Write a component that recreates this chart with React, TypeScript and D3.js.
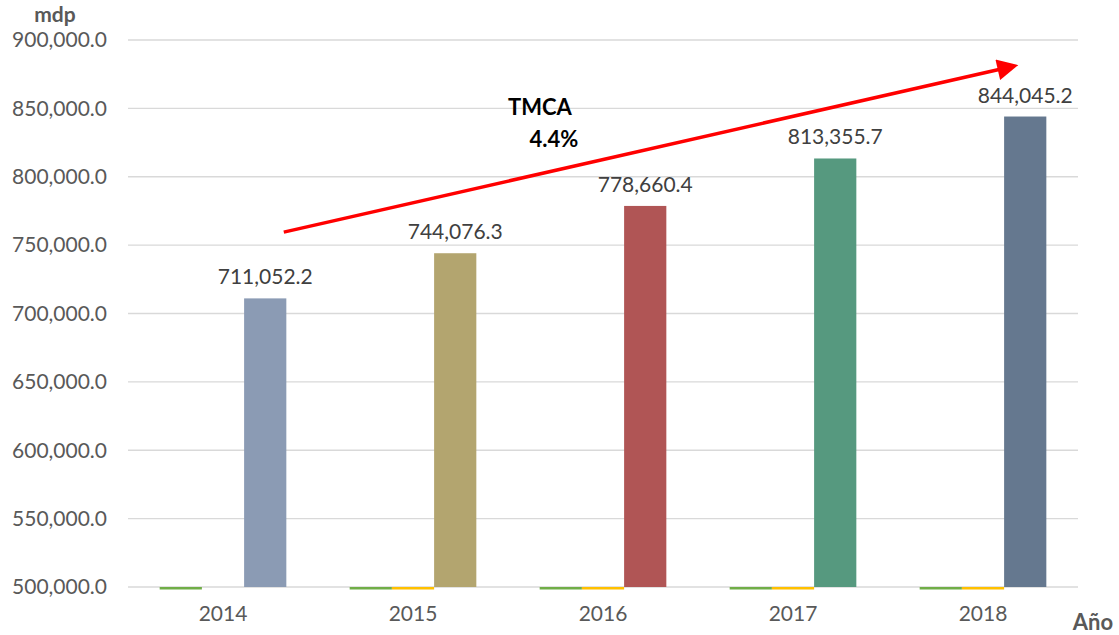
import React from "react";
import * as d3 from "d3";

const years = ["2014", "2015", "2016", "2017", "2018"];
const mainValues = [711052.2, 744076.3, 778660.4, 813355.7, 844045.2];
const greenValues = [0, 0, 0, 0, 0];
const yellowValues: (number | null)[] = [null, 0, 0, 0, 0];
const barColors = ["#8B9BB4", "#B3A56F", "#B05555", "#56997F", "#65788F"];
const yTicks = [500000, 550000, 600000, 650000, 700000, 750000, 800000, 850000, 900000];
const arrowFrom = { year: "2014", offset: 0.98, value: 759500 };
const arrowTo = { year: "2018", offset: 0.73, value: 880600 };

const W = 1119;
const H = 635;
const margin = { left: 128, right: 41, top: 40, bottom: 48 };

export default function App() {
  const x0 = d3
    .scaleBand<string>()
    .domain(years)
    .range([margin.left, W - margin.right])
    .paddingInner(1 / 3)
    .paddingOuter(1 / 6);
  const series = ["green", "yellow", "main"];
  const x1 = d3.scaleBand<string>().domain(series).range([0, x0.bandwidth()]);
  const y = d3.scaleLinear().domain([500000, 900000]).range([H - margin.bottom, margin.top]);
  const fmt = d3.format(",.1f");
  const font = "Lato, 'Open Sans', sans-serif";
  const base = y(500000);

  const below = (v: number | null) => v !== null && v < 500000;

  const ax = (x0(arrowFrom.year) as number) + x0.bandwidth() * arrowFrom.offset;
  const ay = y(arrowFrom.value);
  const bx = (x0(arrowTo.year) as number) + x0.bandwidth() * arrowTo.offset;
  const by = y(arrowTo.value);

  return (
    <svg width={W} height={H} style={{ position: "absolute", left: 0, top: 0 }} fontFamily={font}>
      <rect width={W} height={H} fill="#fff" />
      {yTicks.map((t) => (
        <g key={t}>
          <line x1={margin.left} x2={W - margin.right} y1={y(t)} y2={y(t)} stroke="#D9D9D9" strokeWidth={1.3} />
          <text x={107} y={y(t)} dy="0.35em" textAnchor="end" fontSize={21} fill="#595959">
            {fmt(t)}
          </text>
        </g>
      ))}
      {years.map((yr, i) => {
        const gx = x0(yr) as number;
        const g = greenValues[i];
        const yl = yellowValues[i];
        const m = mainValues[i];
        return (
          <g key={yr}>
            {below(g) && (
              <rect x={gx + (x1("green") as number)} y={base} width={x1.bandwidth()} height={2.5} fill="#70AD47" />
            )}
            {below(yl) && (
              <rect x={gx + (x1("yellow") as number)} y={base} width={x1.bandwidth()} height={2.5} fill="#FFC000" />
            )}
            <rect
              x={gx + (x1("main") as number)}
              y={y(m)}
              width={x1.bandwidth()}
              height={base - y(m)}
              fill={barColors[i]}
            />
            <text
              x={gx + (x1("main") as number) + x1.bandwidth() / 2}
              y={y(m) - 14}
              textAnchor="middle"
              fontSize={21}
              fill="#404040"
            >
              {fmt(m)}
            </text>
            <text x={gx + x0.bandwidth() / 2} y={H - 14} textAnchor="middle" fontSize={21} fill="#595959">
              {yr}
            </text>
          </g>
        );
      })}
      <text x={55} y={22} textAnchor="middle" fontSize={21} fontWeight="bold" fill="#595959">
        mdp
      </text>
      <text x={1093} y={630} textAnchor="middle" fontSize={22} fontWeight="bold" fill="#595959">
        Año
      </text>
      <defs>
        <marker id="arrowhead" viewBox="0 0 10 10" refX="7" refY="5" markerWidth="7" markerHeight="6" orient="auto">
          <path d="M0,0 L10,5 L0,10 z" fill="#FF0000" />
        </marker>
      </defs>
      <line x1={ax} y1={ay} x2={bx} y2={by} stroke="#FF0000" strokeWidth={3.5} markerEnd="url(#arrowhead)" />
      <text x={540} y={115} textAnchor="middle" fontSize={22} fontWeight="bold" fill="#000">
        TMCA
      </text>
      <text x={554} y={147} textAnchor="middle" fontSize={22} fontWeight="bold" fill="#000">
        4.4%
      </text>
    </svg>
  );
}
